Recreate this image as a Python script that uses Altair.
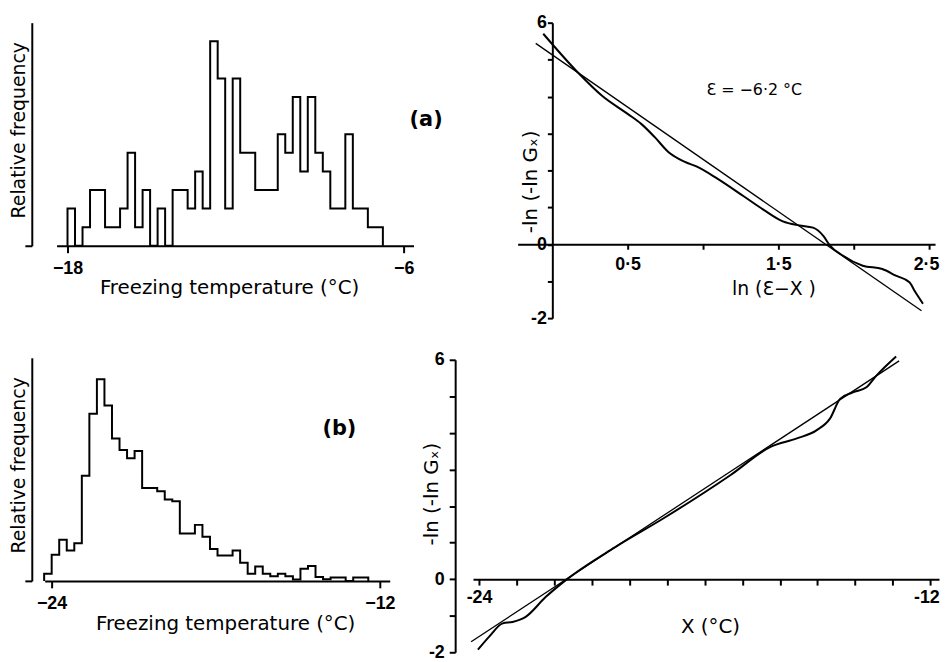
import altair as alt
import pandas as pd

# ---------------- data ----------------
# (a) histogram: counts per bin, starting at -18 degC
a_counts = [2, 0, 1, 3, 3, 1, 1, 2, 5, 1, 3, 0, 2, 0, 3, 3, 2, 4, 2, 11, 9,
            2, 9, 5, 5, 3, 3, 3, 6, 5, 8, 4, 8, 5, 4, 2, 2, 6, 2, 2, 1, 1]
a_start = -18.0
a_bin = 0.268

# (b) histogram: relative frequency per bin (arbitrary units)
b_freq = [22, 79, 125, 92, 114, 319, 507, 612, 532, 432, 397, 372, 394, 282,
          282, 272, 247, 242, 144, 144, 170, 134, 97, 77, 77, 92, 55, 22, 44,
          22, 14, 22, 14, 4, 37, 45, 12, 5, 10, 10, 0, 10, 10]
b_start = -24.27
b_bin = 0.2755

# top-right: -ln(-ln Gx) against ln(eps - X)
c_curve_x = [-0.06, 0.17, 0.33, 0.50, 0.59, 0.68, 0.77, 0.88, 0.96, 1.09, 1.27,
             1.40, 1.53, 1.64, 1.73, 1.80, 1.84, 1.93, 2.06, 2.19, 2.28, 2.37,
             2.41, 2.46]
c_curve_y = [5.70, 4.65, 4.02, 3.53, 3.26, 2.90, 2.50, 2.23, 2.10, 1.79, 1.30,
             0.94, 0.62, 0.51, 0.45, 0.22, -0.02, -0.31, -0.58, -0.67, -0.85,
             -1.03, -1.30, -1.61]
c_fit_x = [-0.11, 2.45]
c_fit_y = [5.44, -1.80]

# bottom-right: -ln(-ln Gx) against X
d_curve_x = [-24.03, -23.73, -23.37, -23.11, -22.76, -22.23, -21.71, -20.39,
             -19.07, -17.31, -16.25, -15.55, -15.03, -14.67, -14.40, -14.06,
             -13.70, -13.44, -12.91]
d_curve_y = [-1.93, -1.57, -1.21, -1.17, -1.03, -0.49, -0.04, 0.87, 1.68, 2.85,
             3.62, 3.85, 4.07, 4.39, 4.93, 5.11, 5.25, 5.56, 6.09]
d_fit_x = [-24.21, -12.83]
d_fit_y = [-1.71, 5.97]

a_ticks = [-18, -6]
b_ticks = [-24, -12]
c_xticks = [0.5, 1.0, 1.5, 2.0, 2.5]
c_yticks = [-2, -1, 0, 1, 2, 3, 4, 5, 6]
d_xticks = list(range(-24, -11))
d_yticks = [-2, -1, 0, 1, 2, 3, 4, 5, 6]

TF = "DejaVu Sans"
LF = "Liberation Sans"


def step_frame(start, width, vals):
    xs, ys = [start], [0]
    for i, v in enumerate(vals):
        xs.append(start + i * width)
        ys.append(v)
    end = start + len(vals) * width
    xs += [end, end]
    ys += [vals[-1], 0]
    return pd.DataFrame({"x": xs, "y": ys, "i": list(range(len(xs)))})


def line_frame(xs, ys):
    return pd.DataFrame({"x": xs, "y": ys, "i": list(range(len(xs)))})


common_axis = dict(grid=False, domainColor="black", domainWidth=2, tickColor="black",
                   tickWidth=2, labelColor="black", titleColor="black",
                   labelFont=LF, labelFontSize=18, labelFontWeight="bold",
                   titleFont=TF, titleFontWeight="normal",
                   labelFlush=False, labelOverlap=False)

# ---------------- panel (a) ----------------
xa = alt.X("x:Q", scale=alt.Scale(domain=[-18.39, -5.65], range=[12, 372], nice=False, zero=False),
           axis=alt.Axis(values=a_ticks, tickSize=7, labelPadding=7, offset=-73,
                         title="Freezing temperature (°C)", titleX=186, titleY=48,
                         titleFontSize=20, titleBaseline="alphabetic", **common_axis))
ya = alt.Y("y:Q", scale=alt.Scale(domain=[0, 12], range=[225, 0], nice=False, zero=False),
           axis=alt.Axis(values=[0], labels=False, tickSize=7, offset=13,
                         title="Relative frequency", titleX=-13, titleY=108,
                         titleFontSize=19, titleBaseline="middle", **common_axis))
a_hist = alt.Chart(step_frame(a_start, a_bin, a_counts)).mark_line(
    interpolate="step-after", color="black", strokeWidth=2).encode(x=xa, y=ya, order="i:Q")
a_lab = alt.Chart(pd.DataFrame({"x": [-5.2], "y": [6.77], "t": ["(a)"]})).mark_text(
    font=TF, fontSize=21, fontWeight="bold", color="black").encode(x=xa, y=ya, text="t:N")
panel_a = alt.layer(a_hist, a_lab).properties(width=372, height=298)

# ---------------- panel (b) ----------------
xb = alt.X("x:Q", scale=alt.Scale(domain=[-24.25, -11.64], range=[0, 348], nice=False, zero=False),
           axis=alt.Axis(values=b_ticks, tickSize=7, labelPadding=7, offset=-72,
                         title="Freezing temperature (°C)", titleX=182, titleY=49,
                         titleFontSize=20, titleBaseline="alphabetic", **common_axis))
yb = alt.Y("y:Q", scale=alt.Scale(domain=[0, 677], range=[225, 0], nice=False, zero=False),
           axis=alt.Axis(values=[0], labels=False, tickSize=7, offset=13,
                         title="Relative frequency", titleX=-13, titleY=108,
                         titleFontSize=19, titleBaseline="middle", **common_axis))
b_hist = alt.Chart(step_frame(b_start, b_bin, b_freq)).mark_line(
    interpolate="step-after", color="black", strokeWidth=2).encode(x=xb, y=yb, order="i:Q")
b_lab = alt.Chart(pd.DataFrame({"x": [-13.48], "y": [462], "t": ["(b)"]})).mark_text(
    font=TF, fontSize=21, fontWeight="bold", color="black").encode(x=xb, y=yb, text="t:N")
panel_b = alt.layer(b_hist, b_lab).properties(width=372, height=297)

# ---------------- panel top-right ----------------
c_xlabel = ("datum.value == 0.5 ? '0·5' : datum.value == 1.5 ? '1·5' : "
            "datum.value == 2.5 ? '2·5' : ''")
ylab_expr = "datum.value == 6 ? '6' : datum.value == 0 ? '0' : datum.value == -2 ? '-2' : ''"
xc = alt.X("x:Q", scale=alt.Scale(domain=[-0.23, 2.54], range=[45, 466], nice=False, zero=False),
           axis=alt.Axis(values=c_xticks, labelExpr=c_xlabel, tickSize=5, labelPadding=6,
                         offset=-74.5, title="ln (Ɛ−X )", titleX=303, titleY=51,
                         titleFontSize=19, titleBaseline="alphabetic",
                         labelAlign={"condition": {"test": "datum.value == 2.5", "value": "right"},
                                     "value": "center"},
                         labelOffset={"condition": {"test": "datum.value == 2.5", "value": 10},
                                      "value": 0},
                         **common_axis))
yc = alt.Y("y:Q", scale=alt.Scale(domain=[-2, 6], range=[298, 0], nice=False, zero=False),
           axis=alt.Axis(values=c_yticks, labelExpr=ylab_expr, tickSize=5, labelPadding=1,
                         offset=-80, title="-ln (-ln Gₓ)", titleX=-22, titleY=160,
                         titleFontSize=20, titleBaseline="middle", **common_axis))
c_curve = alt.Chart(line_frame(c_curve_x, c_curve_y)).mark_line(
    interpolate="monotone", color="black", strokeWidth=2).encode(x=xc, y=yc, order="i:Q")
c_fit = alt.Chart(line_frame(c_fit_x, c_fit_y)).mark_line(
    color="black", strokeWidth=1.3).encode(x=xc, y=yc, order="i:Q")
c_lab = alt.Chart(pd.DataFrame({"x": [1.34], "y": [4.18], "t": ["Ɛ = −6·2 °C"]})).mark_text(
    font=TF, fontSize=16, color="black").encode(x=xc, y=yc, text="t:N")
panel_c = alt.layer(c_fit, c_curve, c_lab).properties(width=470, height=298)

# ---------------- panel bottom-right ----------------
d_xlabel = "datum.value == -24 ? '-24' : datum.value == -12 ? '-12' : ''"
xd = alt.X("x:Q", scale=alt.Scale(domain=[-24.16, -11.77], range=[0, 470], nice=False, zero=False),
           axis=alt.Axis(values=d_xticks, labelExpr=d_xlabel, tickSize=6, labelPadding=4,
                         offset=-73.75, title="X (°C)", titleX=239, titleY=54,
                         titleFontSize=20, titleBaseline="alphabetic",
                         labelAlign={"condition": {"test": "datum.value == -12", "value": "right"},
                                     "value": "center"},
                         labelOffset={"condition": {"test": "datum.value == -12", "value": 9},
                                      "value": 0},
                         **common_axis))
yd = alt.Y("y:Q", scale=alt.Scale(domain=[-2, 6], range=[297, 2], nice=False, zero=False),
           axis=alt.Axis(values=d_yticks, labelExpr=ylab_expr, tickSize=6, labelPadding=5,
                         offset=18, title="-ln (-ln Gₓ)", titleX=-24, titleY=137,
                         titleFontSize=20, titleBaseline="middle", **common_axis))
d_curve = alt.Chart(line_frame(d_curve_x, d_curve_y)).mark_line(
    interpolate="monotone", color="black", strokeWidth=2).encode(x=xd, y=yd, order="i:Q")
d_fit = alt.Chart(line_frame(d_fit_x, d_fit_y)).mark_line(
    color="black", strokeWidth=1.3).encode(x=xd, y=yd, order="i:Q")
panel_d = alt.layer(d_fit, d_curve).properties(width=470, height=297)

chart = alt.concat(panel_a, panel_c, panel_b, panel_d, columns=2,
                   spacing={"row": 40, "column": 60}, bounds="flush", align="each").properties(
    autosize=alt.AutoSizeParams(type="none"),
    padding={"left": 37, "top": 12, "right": 904, "bottom": 642},
    background="white"
).configure_view(strokeWidth=0)

chart.save("out.html", embed_options={"renderer": "svg", "actions": False})
